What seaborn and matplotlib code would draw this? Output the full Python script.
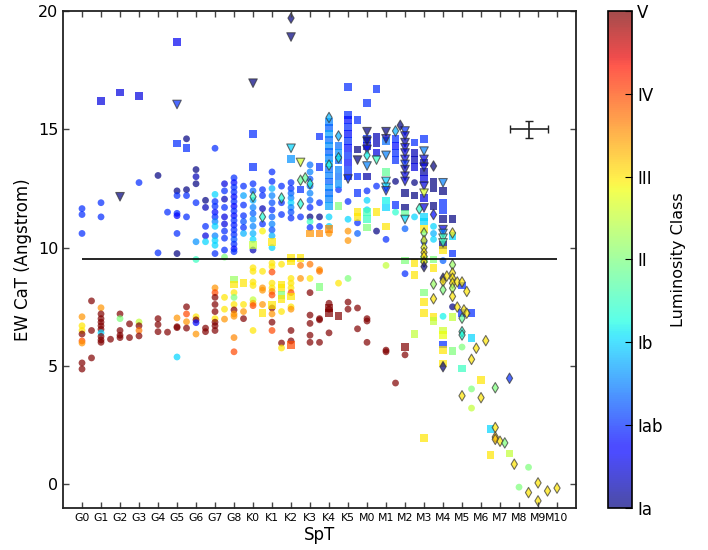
import numpy as np
import pandas as pd
import matplotlib
matplotlib.use("Agg")
import matplotlib.pyplot as plt
import seaborn as sns
from matplotlib.colors import Normalize
from matplotlib.cm import ScalarMappable

# ---------------- data (x = spectral subtype index, y = EW CaT, lc = luminosity class 0=Ia .. 6=V)
spt_labels = ["G0", "G1", "G2", "G3", "G4", "G5", "G6", "G7", "G8",
              "K0", "K1", "K2", "K3", "K4", "K5",
              "M0", "M1", "M2", "M3", "M4", "M5", "M6", "M7", "M8", "M9", "M10"]
lc_labels = ["Ia", "Iab", "Ib", "II", "III", "IV", "V"]
threshold = 9.5
err_point = (23.5, 15.0)
err_x, err_y = 1.0, 0.35

circles_upper = [
    (0, 11.65, 1), (0, 11.4, 1), (0, 10.6, 1),
    (1, 11.9, 1), (1, 11.3, 1),
    (3, 12.75, 1),
    (4, 13.05, 0), (4, 9.78, 1), (4.5, 11.5, 1),
    (5, 12.4, 0), (5, 12.2, 1), (5, 11.45, 1), (5, 11.35, 0.7), (5, 10.6, 1), (5, 9.75, 0),
    (5.5, 14.6, 0), (5.5, 12.45, 0), (5.5, 12.2, 1), (5.5, 11.3, 1),
    (6, 13.3, 0), (6, 13.0, 0.3), (6, 12.7, 0), (6, 11.9, 1), (6, 10.25, 1.6), (6, 9.5, 2.5),
    (6.5, 12.0, 0), (6.5, 11.7, 0.3), (6.5, 10.9, 1), (6.5, 10.5, 0.5), (6.5, 10.25, 2),
    (7, 14.2, 1), (7, 12.25, 2), (7, 11.95, 1), (7, 11.75, 1), (7, 11.5, 0.8), (7, 11.3, 1),
    (7, 11.1, 1.5), (7, 10.9, 2), (7, 10.5, 1.5), (7, 10.3, 2), (7, 10.1, 2), (7, 9.75, 1),
    (7.5, 12.7, 0.5), (7.5, 12.4, 1), (7.5, 12.05, 0.3), (7.5, 11.7, 1), (7.5, 11.3, 0.5),
    (7.5, 11.0, 0.5), (7.5, 10.7, 1), (7.5, 10.4, 1), (7.5, 9.9, 1), (7.5, 9.6, 3),
    (8, 12.95, 1), (8, 12.75, 0.8), (8, 12.55, 1), (8, 12.35, 1), (8, 12.15, 0.8), (8, 11.95, 1),
    (8, 11.75, 0.7), (8, 11.55, 1), (8, 11.35, 0.8), (8, 11.15, 1), (8, 10.95, 0.9), (8, 10.75, 1),
    (8, 10.55, 1), (8, 10.35, 1.2), (8, 10.15, 1), (8, 9.95, 0.8), (8, 9.83, 1),
    (8.5, 12.6, 1), (8.5, 12.2, 1.7), (8.5, 11.8, 1), (8.5, 11.35, 1), (8.5, 11.1, 1.2),
    (8.5, 10.85, 1), (8.5, 10.6, 1.8),
    (9, 12.7, 1), (9, 12.4, 1.3), (9, 12.0, 1.8), (9, 11.7, 1.5), (9, 11.45, 1.3), (9, 11.2, 1.6),
    (9, 10.9, 1.5), (9, 10.6, 1.8), (9, 10.35, 2), (9, 9.9, 0.3),
    (9.5, 12.45, 1), (9.5, 12.2, 1), (9.5, 11.65, 0.3), (9.5, 11.0, 1), (9.5, 10.7, 3.9),
    (10, 13.2, 1), (10, 12.8, 1), (10, 12.5, 1.8), (10, 12.2, 1.5), (10, 11.9, 1.2), (10, 11.6, 1),
    (10, 11.3, 1.3), (10, 11.0, 1.5), (10, 10.75, 1.2), (10, 10.5, 1.8), (10, 10.0, 2),
    (10.5, 12.6, 1), (10.5, 11.9, 1), (10.5, 11.4, 1),
    (11, 12.75, 1), (11, 12.5, 1), (11, 12.3, 1.3), (11, 12.1, 1.5), (11, 11.9, 2),
    (11, 11.7, 1.5), (11, 11.5, 1.2), (11, 11.25, 1),
    (11.5, 11.3, 1),
    (12, 13.5, 1.4), (12, 13.2, 1.5), (12, 12.9, 1.2), (12, 12.6, 1.4), (12, 12.3, 1.5),
    (12, 12.0, 1.3), (12, 11.7, 1), (12, 11.3, 0), (12, 11.1, 2.5), (12, 10.85, 1),
    (12.5, 11.9, 1), (12.5, 11.3, 0), (12.5, 10.9, 1),
    (13, 11.3, 2), (13, 10.9, 2),
    (13.5, 12.45, 1),
    (14, 11.95, 1), (14, 11.2, 2),
    (14.5, 11.05, 1), (14.5, 10.6, 1.3),
    (15, 12.4, 1), (15, 12.0, 2), (15, 11.6, 2),
    (15.5, 12.6, 1), (15.5, 10.7, 0),
    (16, 10.35, 1),
    (16.5, 12.8, 0), (16.5, 11.5, 2.4),
    (17, 10.8, 1.3),
    (17.5, 12.75, 0), (17.5, 11.3, 2),
    (18, 10.25, 1.2),
    (18.5, 10.9, 2), (18.5, 10.6, 1.8), (18.5, 10.35, 2),
]

circles_lower = [
    (0, 7.08, 4.5), (0, 6.7, 4), (0, 6.5, 4), (0, 6.35, 6), (0, 6.06, 5), (0, 5.97, 4.5),
    (0, 5.13, 6), (0, 4.87, 6),
    (0.5, 7.75, 6), (0.5, 6.5, 6), (0.5, 5.34, 6),
    (1, 7.46, 4.5), (1, 7.2, 6), (1, 7.0, 6), (1, 6.85, 6), (1, 6.7, 6), (1, 6.55, 6),
    (1, 6.4, 2), (1, 6.25, 6), (1, 6.1, 6), (1, 6.0, 6),
    (1.5, 6.13, 6),
    (2, 7.2, 6), (2, 7.0, 3), (2, 6.5, 6), (2, 6.3, 6), (2, 6.2, 6),
    (2.5, 6.78, 6), (2.5, 6.2, 6),
    (3, 6.86, 3.5), (3, 6.7, 6), (3, 6.5, 4.7), (3, 6.27, 6),
    (4, 7.0, 6), (4, 6.75, 6), (4, 6.45, 6), (4.5, 6.43, 6),
    (5, 7.03, 4.5), (5, 6.66, 6), (5, 6.62, 6), (5, 5.38, 2),
    (5.5, 7.5, 6), (5.5, 7.2, 5), (5.5, 6.87, 4.5), (5.5, 6.6, 6),
    (6, 7.08, 4), (6, 6.95, 6), (6, 6.83, 0.8), (6, 6.35, 4.5),
    (6.5, 6.6, 6), (6.5, 6.45, 6),
    (7, 8.3, 4.5), (7, 8.1, 5), (7, 7.9, 6), (7, 7.6, 6), (7, 7.3, 6), (7, 7.0, 4),
    (7, 6.85, 6), (7, 6.7, 6), (7, 6.5, 6),
    (7.5, 7.9, 4), (7.5, 7.4, 4), (7.5, 6.98, 4.5),
    (8, 8.1, 4), (8, 7.9, 3), (8, 7.6, 4), (8, 7.37, 6), (8, 7.2, 4.5), (8, 7.1, 4.5),
    (8, 6.2, 4.6), (8, 5.6, 5),
    (8.5, 7.6, 4), (8.5, 7.3, 4.5), (8.5, 7.0, 6),
    (9, 9.15, 4), (9, 9.0, 4), (9, 8.55, 4), (9, 8.4, 4), (9, 7.8, 3.5), (9, 7.65, 4.3),
    (9, 7.55, 5), (9, 6.5, 4),
    (9.5, 9.0, 4), (9.5, 8.3, 4.5), (9.5, 8.2, 4.5), (9.5, 7.6, 4.5),
    (10, 9.35, 4), (10, 9.2, 4), (10, 8.97, 5), (10, 8.5, 4), (10, 8.3, 4), (10, 8.15, 4.5),
    (10, 8.0, 5), (10, 7.45, 6), (10, 7.2, 4.5), (10, 6.85, 6), (10, 6.5, 5),
    (10.5, 9.3, 4), (10.5, 7.3, 4), (10.5, 5.97, 6), (10.5, 5.76, 4),
    (11, 8.7, 4), (11, 8.5, 4), (11, 8.3, 4), (11, 8.1, 5), (11, 7.5, 4), (11, 7.4, 4.5),
    (11, 6.5, 6), (11, 6.06, 6),
    (11.5, 9.25, 4.7), (11.5, 8.7, 4.5),
    (12, 9.3, 4.7), (12, 8.7, 4), (12, 8.1, 6), (12, 7.15, 6), (12, 6.8, 6), (12, 6.3, 6), (12, 6.0, 6),
    (12.5, 9.07, 4.5), (12.5, 9.0, 4.7), (12.5, 7.0, 6), (12.5, 6.95, 6), (12.5, 6.0, 6),
    (13, 10.6, 4.5), (13, 7.65, 6), (13, 7.4, 6), (13, 6.4, 6),
    (13.5, 8.5, 4),
    (14, 10.7, 4.5), (14, 10.3, 4.5), (14, 8.7, 3), (14, 7.7, 6), (14, 7.4, 6),
    (14.5, 7.45, 6), (14.5, 6.57, 6),
    (15, 7.0, 6), (15, 6.9, 6), (15, 6.0, 6),
    (16, 9.25, 3.5), (16, 5.67, 6), (16, 5.6, 6),
    (16.5, 4.28, 6),
    (17, 8.9, 1), (17, 5.47, 6),
    (19, 9.45, 1.3), (19, 7.1, 2.2),
    (19.5, 7.5, 0),
    (20, 5.8, 3),
    (20.5, 4.03, 3), (20.5, 3.22, 3.5),
    (23.5, 0.72, 3), (23, -0.12, 3),
]

squares = [
    (1, 16.2, 0.5), (2, 16.55, 0.5), (3, 16.4, 0.5), (5, 18.7, 0.6), (5, 14.4, 1), (5.5, 14.2, 1),
    (9, 14.8, 1), (9, 13.4, 1), (11, 13.75, 1.6), (11.5, 12.45, 1), (12.5, 14.7, 1), (12.5, 13.4, 1),
    (13, 15.3, 1.5), (13, 15.05, 1.3), (13, 14.8, 1.7), (13, 14.55, 1.4), (13, 14.3, 1.6),
    (13, 14.05, 1.3), (13, 13.8, 1.5), (13, 13.55, 1.8), (13, 13.3, 1.4), (13, 13.05, 1.5),
    (13, 12.8, 1.3), (13, 12.55, 1.6), (13, 12.3, 1.4), (13, 12.05, 1.5), (13, 11.75, 1.7),
    (13, 10.8, 4.6),
    (13.5, 14.3, 1.4), (13.5, 14.0, 1.6), (13.5, 13.7, 1.3), (13.5, 13.3, 1.5), (13.5, 13.0, 1.4),
    (13.5, 12.7, 1.6), (13.5, 11.75, 3),
    (14, 16.8, 1), (14, 15.6, 1), (14, 15.4, 0.8), (14, 15.1, 1), (14, 14.8, 0.8), (14, 14.5, 1),
    (14, 14.2, 0.8), (14, 13.9, 1), (14, 13.6, 0.8), (14, 13.3, 1), (14, 13.0, 0.9),
    (14.5, 15.4, 1), (14.5, 14.15, 0), (14.5, 13.0, 1), (14.5, 12.3, 1), (14.5, 11.5, 4), (14.5, 11.3, 4),
    (15, 16.1, 1), (15, 14.6, 1), (15, 14.3, 0.5), (15, 13.0, 0.2), (15, 11.5, 2.6), (15, 11.2, 2.5),
    (15, 10.85, 3),
    (15.5, 16.7, 1), (15.5, 14.7, 0.3), (15.5, 14.4, 0.3), (15.5, 14.0, 0.5), (15.5, 11.5, 4),
    (16, 14.5, 1.4), (16, 13.2, 2.8), (16, 12.0, 2.2), (16, 11.7, 2.0), (16, 10.9, 4),
    (16.5, 14.6, 1), (16.5, 14.3, 0.8), (16.5, 14.0, 1), (16.5, 13.7, 1), (16.5, 11.8, 1),
    (17, 12.3, 0), (17, 11.7, 0), (17, 11.45, 2.8), (17, 9.45, 3),
    (17.5, 14.45, 1), (17.5, 14.0, 0.3), (17.5, 13.7, 0.3), (17.5, 13.4, 0.5), (17.5, 12.2, 0),
    (17.5, 9.35, 4), (17.5, 8.85, 4), (17.5, 6.35, 3.5),
    (18, 14.6, 1), (18, 13.6, 0.2), (18, 13.2, 0.2), (18, 12.9, 0.5), (18, 12.1, 0.5),
    (18, 11.3, 2), (18, 11.1, 2), (18, 10.8, 4), (18, 9.5, 3), (18, 8.1, 3), (18, 7.7, 4),
    (18, 7.25, 4), (18, 1.95, 4),
    (18.5, 12.8, 0), (18.5, 12.5, 0), (18.5, 11.75, 0), (18.5, 9.5, 3), (18.5, 9.15, 4),
    (18.5, 7.08, 4), (18.5, 6.9, 3.5),
    (19, 12.4, 0), (19, 11.9, 1), (19, 11.6, 1), (19, 11.2, 0), (19, 10.1, 0), (19, 9.9, 4),
    (19, 6.5, 3.6), (19, 6.3, 3.8), (19, 5.9, 1), (19, 5.67, 4), (19, 5.1, 4),
    (19.5, 11.2, 0), (19.5, 10.5, 2), (19.5, 9.75, 1), (19.5, 7.08, 3.5), (19.5, 5.64, 3),
    (20, 8.4, 1), (20, 7.25, 1), (20, 4.9, 2.5),
    (20.5, 7.25, 1), (20.5, 6.18, 2),
    (21, 4.4, 4), (21.5, 2.33, 2), (21.5, 1.23, 4), (22.5, 1.3, 3.5),
    (8, 8.65, 3.2), (8, 8.45, 4), (8.5, 8.5, 4), (9, 10.1, 3.5), (10, 10.25, 4), (9.5, 7.23, 4),
    (10, 7.58, 4), (10.5, 8.45, 4), (10.5, 8.3, 4), (10.5, 8.0, 3), (10.5, 7.82, 4),
    (11, 9.57, 4), (11, 9.42, 4), (11, 7.94, 4), (11, 5.89, 5), (11.5, 9.56, 4),
    (12, 10.6, 4.5), (12.5, 10.6, 4.6), (12.5, 8.33, 3), (13, 7.45, 6), (13, 7.23, 6),
    (13.5, 7.12, 6), (17, 5.8, 6),
]

triangles = [
    (2, 12.15, 0), (5, 16.05, 1), (9, 16.95, 0), (11, 18.9, 0), (11, 14.2, 2), (11.5, 13.6, 3.6),
    (14, 12.9, 1), (14.5, 13.7, 0),
    (15, 14.9, 0), (15, 14.5, 0), (15, 14.15, 0.5), (15, 13.45, 1.5),
    (15.5, 13.7, 2.5),
    (16, 14.9, 0), (16, 14.6, 0.3), (16, 13.9, 1.5), (16, 12.8, 2), (16, 12.55, 2), (16, 12.4, 1),
    (17, 14.93, 1), (17, 14.72, 0.5), (17, 14.44, 0.3), (17, 14.22, 0.5), (17, 14.0, 0.5),
    (17, 13.73, 0.5), (17, 13.52, 1), (17, 13.3, 0.3), (17, 13.02, 0.5), (17, 12.8, 0.5),
    (17, 11.19, 2),
    (18, 14.08, 1.5), (18, 13.73, 0.5), (18, 13.4, 0.5), (18, 12.6, 0.5), (18, 12.3, 3.7),
    (18, 11.68, 0.5),
    (19, 12.74, 1.5), (19, 10.76, 0.5), (19, 10.6, 1.5), (19, 10.4, 2.5), (19, 10.2, 2.5),
]

diamonds = [
    (11, 19.7, 0), (9, 12.15, 2.5), (9.5, 11.3, 2.3), (10.5, 12.1, 2.3), (11.5, 12.85, 2.8),
    (11.75, 12.95, 2.8), (11.5, 11.85, 2.3), (12, 12.7, 2.3),
    (13, 15.5, 1.8), (13, 13.49, 2.3), (13.5, 14.72, 1.8), (13.5, 13.8, 2.2),
    (15, 13.9, 2.2), (16.5, 14.93, 1.8), (16.75, 15.17, 0), (17.75, 11.64, 2.4),
    (18, 10.62, 3), (18, 10.3, 3.8), (18, 10.0, 3.8), (18, 9.8, 4), (18, 9.63, 4), (18, 9.4, 4),
    (18, 9.2, 0),
    (18.5, 13.45, 0), (18.5, 11.4, 0.8), (18.5, 8.46, 3.2), (18.5, 7.84, 4),
    (19, 8.71, 0), (19, 8.57, 4), (19, 8.22, 3), (19, 4.97, 0), (19.2, 8.8, 4),
    (19.5, 10.62, 4), (19.5, 9.28, 3.2), (19.5, 8.93, 4), (19.5, 8.71, 4), (19.5, 8.5, 4),
    (19.5, 8.29, 3.3), (19.5, 7.94, 4), (19.75, 8.55, 4), (19.75, 7.49, 4),
    (20, 8.55, 4), (20, 7.02, 2.8), (20, 6.45, 2.3), (20, 6.31, 2.3), (20, 3.74, 4),
    (20.25, 8.15, 4), (20.1, 7.37, 4), (20.25, 7.23, 4),
    (20.5, 5.28, 4), (20.75, 5.75, 4), (21, 3.66, 4), (21.25, 6.07, 4),
    (21.75, 4.08, 3), (21.75, 2.4, 4), (21.75, 2.0, 4.2), (21.75, 1.9, 4.2), (22, 1.82, 4),
    (22.25, 1.75, 3), (22.5, 4.48, 1),
    (22.75, 0.85, 4), (23.5, -0.35, 4), (24, 0.06, 4), (24, -0.7, 4), (24.5, -0.28, 4),
    (25, -0.16, 4),
]

# ---------------- figure
fig = plt.figure(figsize=(7.08, 5.5), dpi=100)
ax = fig.add_axes([0.089, 0.0764, 0.7246, 0.9036])
cax = fig.add_axes([0.8588, 0.0764, 0.034, 0.9036])

norm_range = (0, 6)
alpha = 0.7
jet = matplotlib.colormaps["jet"]


def to_df(rows):
    return pd.DataFrame(rows, columns=["x", "y", "lc"])


sns.scatterplot(data=to_df(circles_upper + circles_lower), x="x", y="y", hue="lc",
                palette=jet, hue_norm=norm_range, marker="o", s=24, alpha=alpha,
                linewidth=0, legend=False, ax=ax)
sns.scatterplot(data=to_df(squares), x="x", y="y", hue="lc",
                palette=jet, hue_norm=norm_range, marker="s", s=30, alpha=alpha,
                linewidth=0, legend=False, ax=ax)
sns.scatterplot(data=to_df(triangles), x="x", y="y", hue="lc",
                palette=jet, hue_norm=norm_range, marker="v", s=38, alpha=alpha,
                edgecolor="#333333", linewidth=0.8, legend=False, ax=ax)
sns.scatterplot(data=to_df(diamonds), x="x", y="y", hue="lc",
                palette=jet, hue_norm=norm_range, marker="d", s=28, alpha=alpha,
                edgecolor="#333333", linewidth=0.8, legend=False, ax=ax)

ax.hlines(threshold, 0, len(spt_labels) - 1, color="black", linewidth=1.2)
ax.errorbar([err_point[0]], [err_point[1]], xerr=err_x, yerr=err_y, color="#222222",
            capsize=3, linewidth=1.2, fmt="none")

ax.set_xlim(-1, len(spt_labels))
ax.set_ylim(-1, 20)
ax.set_xticks(range(len(spt_labels)))
ax.set_xticklabels(spt_labels, fontsize=7.8)
ax.set_yticks([0, 5, 10, 15, 20])
ax.tick_params(axis="y", labelsize=11.5)
ax.tick_params(direction="in", top=True, right=True, length=4, width=1, color="#444444")
ax.set_xlabel("SpT", fontsize=12, labelpad=2)
ax.set_ylabel("EW CaT (Angstrom)", fontsize=12)
for sp in ax.spines.values():
    sp.set_linewidth(1.3)
    sp.set_color("#222222")

sm = ScalarMappable(norm=Normalize(*norm_range), cmap=jet)
cb = fig.colorbar(sm, cax=cax, alpha=alpha)
cb.set_ticks(range(len(lc_labels)))
cb.set_ticklabels(lc_labels)
cax.tick_params(direction="in", length=5, labelsize=12)
cb.set_label("Luminosity Class", fontsize=11.5, labelpad=6)
cb.outline.set_linewidth(1.2)

fig.savefig("out.png", dpi=100)
